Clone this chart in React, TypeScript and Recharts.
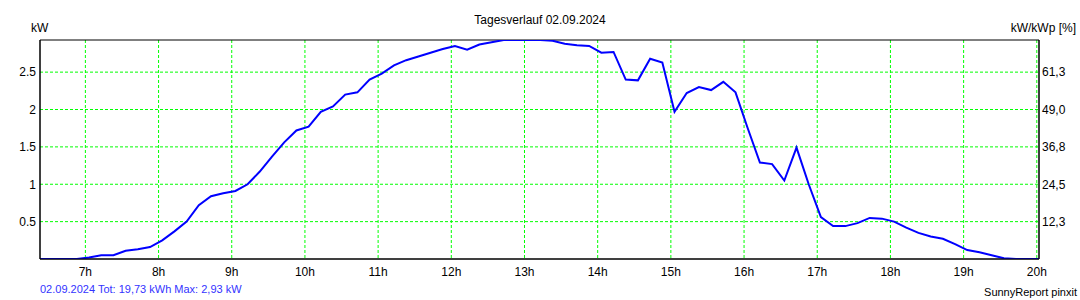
import { LineChart, Line, XAxis, YAxis, CartesianGrid, ReferenceArea } from "recharts";

// 10-minute readings, 02.09.2024
const times = [
  "6:23", "6:33", "6:43", "6:53", "7:03", "7:13", "7:23", "7:33", "7:43", "7:53",
  "8:03", "8:13", "8:23", "8:33", "8:43", "8:53", "9:03", "9:13", "9:23", "9:33",
  "9:43", "9:53", "10:03", "10:13", "10:23", "10:33", "10:43", "10:53", "11:03", "11:13",
  "11:23", "11:33", "11:43", "11:53", "12:03", "12:13", "12:23", "12:33", "12:43", "12:53",
  "13:03", "13:13", "13:23", "13:33", "13:43", "13:53", "14:03", "14:13", "14:23", "14:33",
  "14:43", "14:53", "15:03", "15:13", "15:23", "15:33", "15:43", "15:53", "16:03", "16:13",
  "16:23", "16:33", "16:43", "16:53", "17:03", "17:13", "17:23", "17:33", "17:43", "17:53",
  "18:03", "18:13", "18:23", "18:33", "18:43", "18:53", "19:03", "19:13", "19:23", "19:33",
  "19:43", "19:53", "20:03",
];

const powerKw = [
  0, 0, 0, 0, 0.02, 0.05, 0.05, 0.11, 0.13, 0.16,
  0.25, 0.37, 0.5, 0.72, 0.84, 0.88, 0.91, 1.0, 1.17, 1.37,
  1.56, 1.72, 1.77, 1.97, 2.04, 2.2, 2.23, 2.4, 2.48, 2.59,
  2.66, 2.71, 2.76, 2.81, 2.85, 2.8, 2.87, 2.9, 2.93, 2.93,
  2.93, 2.93, 2.92, 2.88, 2.86, 2.85, 2.76, 2.77, 2.4, 2.39,
  2.68, 2.63, 1.97, 2.22, 2.3, 2.26, 2.37, 2.23, 1.75, 1.29,
  1.27, 1.05, 1.49, 1.0, 0.56, 0.44, 0.44, 0.48, 0.55, 0.54,
  0.5, 0.42, 0.35, 0.3, 0.27, 0.2, 0.12, 0.09, 0.05, 0.01,
  0, 0, 0,
];

const hourTicks = [7, 8, 9, 10, 11, 12, 13, 14, 15, 16, 17, 18, 19, 20];
const kwTicks = [0.5, 1, 1.5, 2, 2.5];
const pctTicks = [12.3, 24.5, 36.8, 49.0, 61.3];

const maxKw = 2.93;
const kwp = 4.08;
const xStart = 6.38;
const xEnd = 20.03;

const toHours = (t: string) => {
  const [h, m] = t.split(":").map(Number);
  return h + m / 60;
};

const data = times.map((t, i) => ({ t: toHours(t), kw: powerKw[i] }));

const font = "'Liberation Sans', Arial, sans-serif";

export default function App() {
  return (
    <div style={{ position: "absolute", left: 0, top: 0, width: 1080, height: 300, background: "#fff", fontFamily: font }}>
      <LineChart width={1080} height={300} data={data} margin={{ top: 40, right: 0, left: 0, bottom: 0 }}>
        <CartesianGrid
          stroke="#00ff00"
          strokeDasharray="3 2"
          horizontalValues={kwTicks}
          verticalValues={hourTicks}
        />
        <XAxis
          dataKey="t"
          type="number"
          domain={[xStart, xEnd]}
          allowDataOverflow
          ticks={hourTicks}
          tickFormatter={(v) => `${v}h`}
          height={41}
          tickLine={false}
          tickSize={0}
          tickMargin={8}
          axisLine={{ stroke: "#000" }}
          tick={{ fill: "#000", fontSize: 12, fontFamily: font }}
        />
        <YAxis
          domain={[0, maxKw]}
          allowDataOverflow
          ticks={kwTicks}
          width={40}
          tickLine={false}
          tickSize={0}
          tickMargin={4}
          axisLine={{ stroke: "#000" }}
          tick={{ fill: "#000", fontSize: 12, fontFamily: font }}
        />
        <YAxis
          yAxisId="pct"
          orientation="right"
          domain={[0, (maxKw / kwp) * 100]}
          allowDataOverflow
          ticks={pctTicks}
          tickFormatter={(v) => v.toFixed(1).replace(".", ",")}
          width={41}
          tickLine={false}
          tickSize={0}
          tickMargin={3}
          axisLine={{ stroke: "#000" }}
          tick={{ fill: "#000", fontSize: 12, fontFamily: font, textAnchor: "start" }}
        />
        <ReferenceArea
          x1={xStart}
          x2={xEnd}
          y1={0}
          y2={maxKw}
          stroke="#000"
          strokeWidth={1}
          fill="none"
          fillOpacity={0}
          ifOverflow="visible"
        />
        <Line
          type="linear"
          dataKey="kw"
          stroke="#0000ff"
          strokeWidth={2}
          dot={false}
          isAnimationActive={false}
        />
      </LineChart>
      <div style={{ position: "absolute", top: 13, left: 0, width: 1080, textAlign: "center", fontSize: 12 }}>
        Tagesverlauf 02.09.2024
      </div>
      <div style={{ position: "absolute", top: 21, left: 31, fontSize: 12 }}>kW</div>
      <div style={{ position: "absolute", top: 21, right: 4, fontSize: 12 }}>kW/kWp [%]</div>
      <div style={{ position: "absolute", top: 283, left: 40, fontSize: 11, color: "#3333ff" }}>
        02.09.2024 Tot: 19,73 kWh Max: 2,93 kW
      </div>
      <div style={{ position: "absolute", top: 286, right: 3, fontSize: 11 }}>SunnyReport pinxit</div>
    </div>
  );
}
